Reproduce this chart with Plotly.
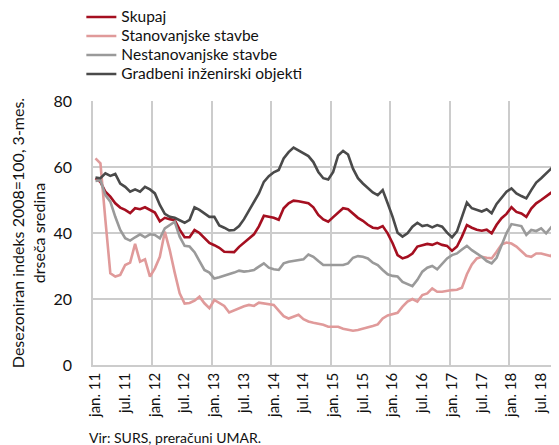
import plotly.graph_objects as go

months = list(range(94))  # jan 2011 .. oct 2018

skupaj = [56.6, 55.5, 52.5, 51.0, 49.0, 47.7, 47.0, 46.0, 47.5, 47.2,
          47.8, 46.9, 46.2, 43.5, 44.6, 44.2, 43.9, 41.0, 38.7, 38.7,
          40.9, 40.0, 38.4, 37.0, 36.3, 35.5, 34.3, 34.2, 34.2, 35.8,
          37.2, 38.3, 39.6, 42.0, 45.2, 45.0, 44.6, 44.0, 47.5, 49.0,
          49.8, 49.6, 49.4, 49.0, 47.8, 45.5, 44.1, 43.4, 44.8, 46.3,
          47.5, 47.2, 45.8, 44.6, 43.7, 42.5, 41.6, 41.4, 42.1, 39.9,
          36.9, 33.3, 32.3, 32.8, 33.8, 35.9, 36.3, 36.7, 36.4, 37.0,
          36.4, 36.1, 34.6, 35.9, 38.9, 42.4, 41.6, 41.0, 40.7, 41.0,
          39.9, 42.5, 44.5, 45.8, 47.8, 46.4, 45.9, 44.9, 47.4, 49.0,
          50.0, 51.0, 52.2, 52.8]

stanovanjske = [62.6, 61.1, 44.0, 27.8, 26.8, 27.3, 30.3, 31.0, 36.7, 31.3,
                32.0, 26.8, 29.3, 32.8, 40.4, 34.8, 28.0, 21.7, 18.6, 18.8,
                19.5, 20.7, 18.7, 17.2, 19.7, 18.8, 17.9, 15.9, 16.6, 17.2,
                17.8, 18.2, 17.9, 18.9, 18.6, 18.5, 18.2, 16.5, 14.8, 14.1,
                14.6, 15.2, 13.9, 13.2, 12.8, 12.6, 12.2, 11.6, 11.6, 11.6,
                11.0, 10.6, 10.4, 10.6, 11.0, 11.2, 11.8, 12.3, 14.1, 15.0,
                15.5, 15.8, 17.7, 19.2, 20.0, 19.2, 21.2, 21.7, 23.2, 22.2,
                22.2, 22.5, 22.7, 22.8, 23.4, 27.5, 30.5, 32.3, 32.8, 32.5,
                32.3, 34.3, 36.5, 37.1, 36.8, 35.9, 34.5, 33.1, 32.8, 33.8,
                33.8, 33.5, 33.0, 35.9]

nestanovanjske = [55.8, 56.0, 51.5, 49.5, 44.9, 40.9, 38.4, 37.7, 38.7, 39.6,
                  38.7, 39.6, 39.4, 38.4, 41.4, 42.4, 43.4, 38.9, 36.1, 35.9,
                  34.2, 31.5, 28.8, 28.0, 26.2, 26.6, 27.0, 27.5, 28.0, 28.6,
                  28.3, 28.5, 28.8, 29.8, 30.8, 29.5, 29.0, 28.8, 30.8, 31.3,
                  31.5, 31.8, 32.0, 33.5, 32.8, 31.5, 30.3, 30.3, 30.2, 30.3,
                  30.3, 30.8, 32.5, 33.0, 32.8, 32.3, 31.0, 30.3, 28.8, 27.5,
                  27.0, 26.8, 25.2, 24.5, 23.9, 25.8, 28.3, 29.5, 30.0, 29.0,
                  30.5, 32.3, 33.3, 33.8, 35.0, 36.1, 34.8, 33.8, 32.8, 31.5,
                  30.8, 32.5, 36.2, 40.0, 42.7, 42.4, 42.1, 39.4, 40.9, 40.6,
                  41.4, 39.9, 41.7, 40.1]

gradbeni = [56.8, 56.6, 58.1, 57.3, 57.9, 55.0, 54.0, 52.5, 53.2, 52.5,
            54.0, 53.2, 52.0, 48.5, 45.8, 44.9, 44.6, 43.9, 43.1, 44.0,
            47.8, 47.0, 46.0, 44.9, 44.9, 42.3, 41.6, 40.8, 40.9, 42.1,
            44.2, 46.8, 49.5, 52.0, 55.5, 57.2, 58.4, 59.1, 62.6, 64.5,
            65.9, 65.0, 64.2, 63.3, 61.5, 58.5, 56.6, 56.2, 58.5, 63.5,
            64.9, 63.8, 59.5, 56.6, 55.0, 53.6, 52.3, 51.5, 53.0, 49.0,
            44.9, 40.1, 38.9, 39.9, 41.9, 43.1, 42.1, 42.4, 41.7, 42.4,
            41.9, 40.1, 38.7, 40.5, 45.0, 49.2, 47.5, 47.0, 46.5, 47.2,
            46.0, 48.8, 50.8, 52.5, 53.5, 52.0, 51.2, 50.5, 53.0, 55.3,
            56.6, 58.2, 59.5, 60.6]

tick_positions = list(range(0, 94, 6))
tick_labels = ["jan. 11", "jul. 11", "jan. 12", "jul. 12", "jan. 13", "jul. 13",
               "jan. 14", "jul. 14", "jan. 15", "jul. 15", "jan. 16", "jul. 16",
               "jan. 17", "jul. 17", "jan. 18", "jul. 18"]

series = [
    ("Skupaj", skupaj, "#a50f20"),
    ("Stanovanjske stavbe", stanovanjske, "#e09a9a"),
    ("Nestanovanjske stavbe", nestanovanjske, "#9a9a9a"),
    ("Gradbeni inženirski objekti", gradbeni, "#4a4a4a"),
]

FONT = "Lato"
fig = go.Figure()
for name, vals, col in series:
    fig.add_trace(go.Scatter(x=months, y=vals, mode="lines",
                             name='<span style="font-size:15.5px">' + name + '</span>',
                             line=dict(color=col, width=2.6), cliponaxis=True))

grid = "#cccccc"
fig.update_layout(
    width=551, height=437,
    margin=dict(l=85, r=0, t=93, b=80, autoexpand=False),
    plot_bgcolor="white", paper_bgcolor="white",
    font=dict(family=FONT, size=15, color="#111111"),
    showlegend=True,
    legend=dict(x=-0.025, y=1.373, xanchor="left", yanchor="top",
                font=dict(family=FONT, size=12.3, color="#111111"),
                tracegroupgap=0, itemwidth=30, bgcolor="rgba(0,0,0,0)"),
    xaxis=dict(range=[-0.5, 93.6], tickmode="array", tickvals=tick_positions,
               ticktext=tick_labels, tickangle=-90, showgrid=False,
               zeroline=False, showline=True, linecolor=grid, linewidth=1.5,
               ticks="", tickfont=dict(size=15), automargin=False,
               minor=dict(tick0=-0.5, dtick=12, showgrid=True,
                          gridcolor=grid, gridwidth=1.5, ticks="")),
    yaxis=dict(range=[0, 80], tickvals=[0, 20, 40, 60, 80], showgrid=True,
               gridcolor=grid, gridwidth=1.5, zeroline=False, showline=True,
               linecolor=grid, linewidth=1.5, ticks="", ticklabelstandoff=16,
               tickfont=dict(size=16), automargin=False,
               title=dict(text="Desezoniran indeks 2008=100, 3-mes.<br>drseča sredina",
                          font=dict(size=16), standoff=26)),
)
fig.add_annotation(text="Vir: SURS, preračuni UMAR.", xref="paper", yref="paper",
                   x=-0.013, y=-0.273, xanchor="left", yanchor="middle", showarrow=False,
                   font=dict(family=FONT, size=14, color="#111111"))
fig.write_html("out.html")
